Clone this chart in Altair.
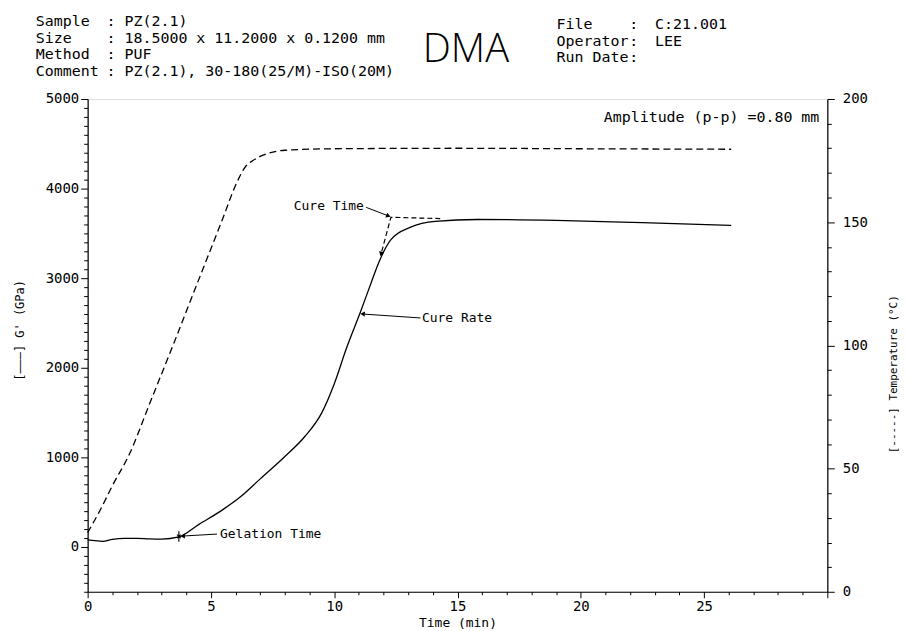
import math
import altair as alt
import pandas as pd

# ---------------- data ----------------
time_g = [0, 0.3, 0.6, 1.0, 1.5, 2.0, 2.5, 3.0, 3.7, 4.5, 5.5, 6.2, 7.0, 8.0, 8.8,
          9.5, 10.0, 10.5, 11.06, 11.5, 11.8, 12.3, 13.1, 14.1, 15.8, 19.0, 22.5, 26.1]
g_prime = [80, 70, 62, 85, 95, 95, 90, 88, 112, 250, 420, 560, 760, 1010, 1230,
           1500, 1820, 2220, 2620, 2950, 3170, 3430, 3570, 3635, 3655, 3645, 3620, 3590]

time_temp = [0, 0.5, 1.0, 1.7, 2.5, 3.5, 4.4, 5.5, 6.0, 6.4, 6.7, 7.2, 8.0, 10.0, 15.0, 20.0, 26.1]
temperature = [24, 33, 43, 56, 76, 101, 124, 152, 165, 172.5, 175, 177.5, 179.2, 179.8, 180, 179.8, 179.6]

x_ticks = list(range(0, 31))
g_ticks = list(range(-500, 5001, 100))
t_ticks = list(range(0, 201, 10))

header_labels = ["Sample", "Size", "Method", "Comment"]
header_values = ["PZ(2.1)", "18.5000 x 11.2000 x 0.1200 mm", "PUF", "PZ(2.1), 30-180(25/M)-ISO(20M)"]
file_labels = ["File", "Operator", "Run Date"]
file_values = ["C:21.001", "LEE", ""]
big_title = "DMA"
amplitude_text = "Amplitude (p-p) =0.80 mm"

ann_text = ["Cure Time", "Cure Rate", "Gelation Time"]
ann_t = [8.36, 13.56, 5.37]
ann_g = [3800, 2556, 144]
arrow_t0 = [11.3, 13.5, 5.25]
arrow_g0 = [3790, 2556, 144]
arrow_t1 = [12.2, 11.15, 3.85]
arrow_g1 = [3695, 2600, 122]

tangent_t = [14.3, 12.3, 11.9]
tangent_g = [3665, 3680, 3270]

gel_t = [3.7]
gel_g = [118]

# ---------------- layout ----------------
W, H = 743, 495
PAD = {"left": 80, "top": 90, "right": 72, "bottom": 38}
OX, OY = 8 + PAD["left"], 8 + PAD["top"]
MONO = "DejaVu Sans Mono"
KX = W / 30.0
KY = H / 5500.0

df_g = pd.DataFrame({"t": time_g, "g": g_prime})
df_t = pd.DataFrame({"t": time_temp, "T": temperature})
df_ann = pd.DataFrame({"label": ann_text, "t": ann_t, "g": ann_g})
angles = []
for a0, b0, a1, b1 in zip(arrow_t0, arrow_g0, arrow_t1, arrow_g1):
    angles.append(math.degrees(math.atan2(-(b1 - b0) * KY, (a1 - a0) * KX)) % 360)
df_arrow = pd.DataFrame({"t": arrow_t0, "g": arrow_g0, "t1": arrow_t1, "g1": arrow_g1, "ang": angles})
df_head = pd.DataFrame({"t": arrow_t1, "g": arrow_g1, "ang": angles})
df_tan = pd.DataFrame({"t": tangent_t, "g": tangent_g, "i": list(range(len(tangent_t)))})
tan_ang = math.degrees(math.atan2(-(tangent_g[2] - tangent_g[1]) * KY, (tangent_t[2] - tangent_t[1]) * KX)) % 360
df_tan_head = pd.DataFrame({"t": [tangent_t[2]], "g": [tangent_g[2]], "ang": [tan_ang]})
df_gel = pd.DataFrame({"t": gel_t, "g": gel_g})

rows = []
for i, (lab, val) in enumerate(zip(header_labels, header_values)):
    y = 20 + i * 16.5 - OY
    rows.append({"text": lab, "px": 36 - OX, "py": y})
    rows.append({"text": ":", "px": 107 - OX, "py": y})
    rows.append({"text": val, "px": 125 - OX, "py": y})
for i, (lab, val) in enumerate(zip(file_labels, file_values)):
    y = 23 + i * 16.5 - OY
    rows.append({"text": lab, "px": 559 - OX, "py": y})
    rows.append({"text": ":", "px": 632 - OX, "py": y})
    rows.append({"text": val, "px": 658 - OX, "py": y})
df_header = pd.DataFrame(rows)

# ---------------- scales / axes ----------------
x_scale = alt.Scale(domain=[0, 30], nice=False, zero=False)
g_scale = alt.Scale(domain=[-500, 5000], nice=False, zero=False)
t_scale = alt.Scale(domain=[0, 200], nice=False, zero=False)

common = dict(domainColor="black", tickColor="black", labelColor="black", titleColor="black",
              labelFont=MONO, titleFont=MONO, titleFontWeight="normal", grid=False,
              domainWidth=1.2, tickWidth=1, labelOverlap=False, labelBound=False, format="d")

x_axis = alt.Axis(values=x_ticks,
                  labelExpr="datum.value % 5 === 0 && datum.value < 30 ? datum.label : ''",
                  tickSize={"condition": {"test": "datum.value % 5 === 0", "value": 6}, "value": 3},
                  labelFontSize=14, labelPadding=2, labelFlush=False,
                  title="Time (min)", titleFontSize=13, titleY=31, titleBaseline="middle",
                  **common)
g_axis = alt.Axis(orient="left", values=g_ticks,
                  labelExpr="datum.value % 1000 === 0 ? datum.label : ''",
                  tickSize={"condition": {"test": "datum.value % 1000 === 0", "value": 7}, "value": 4},
                  labelFontSize=14, labelPadding=2,
                  title="[———] G' (GPa)", titleFontSize=12, titleAngle=270,
                  titleX=-68, titleY=232, titleAlign="center", titleBaseline="middle",
                  **common)
t_axis = alt.Axis(orient="right", values=t_ticks,
                  labelExpr="datum.value % 50 === 0 ? datum.label : ''",
                  tickSize={"condition": {"test": "datum.value % 50 === 0", "value": 7}, "value": 4},
                  labelFontSize=14, labelPadding=8,
                  title="[-----] Temperature (°C)", titleFontSize=11, titleAngle=270,
                  titleX=66, titleY=276, titleAlign="center", titleBaseline="middle",
                  **common)

X = alt.X("t:Q", scale=x_scale, axis=x_axis)
YG = alt.Y("g:Q", scale=g_scale, axis=g_axis)

# ---------------- layers ----------------
g_line = alt.Chart(df_g).mark_line(color="black", strokeWidth=1.3, interpolate="monotone").encode(x=X, y=YG)

ann = alt.Chart(df_ann).mark_text(align="left", baseline="middle", font=MONO, fontSize=13, color="black").encode(
    x=X, y=YG, text="label:N",
)

arrows = alt.Chart(df_arrow).mark_rule(color="black", strokeWidth=1).encode(
    x=X, x2="t1:Q", y=YG, y2="g1:Q",
)
heads = alt.Chart(df_head).mark_point(shape="triangle-right", filled=True, size=28, color="black", opacity=1).encode(
    x=X, y=YG, angle=alt.Angle("ang:Q", scale=None),
)

tangent = alt.Chart(df_tan).mark_line(color="black", strokeWidth=1.2, strokeDash=[5, 3]).encode(
    x=X, y=YG, order="i:Q",
)
tan_head = alt.Chart(df_tan_head).mark_point(shape="triangle-right", filled=True, size=28, color="black", opacity=1).encode(
    x=X, y=YG, angle=alt.Angle("ang:Q", scale=None),
)

gel_mark = alt.Chart(df_gel).mark_point(
    shape="M0,-1L0,1M-0.35,-0.35L0.35,0.35M-0.35,0.35L0.35,-0.35",
    filled=False, size=110, color="black", strokeWidth=1.1, opacity=1,
).encode(x=X, y=YG)

g_group = alt.layer(g_line, tangent, tan_head, arrows, heads, ann, gel_mark)

t_line = alt.Chart(df_t).mark_line(color="black", strokeWidth=1.3, strokeDash=[7, 4], interpolate="monotone").encode(
    x=X,
    y=alt.Y("T:Q", scale=t_scale, axis=t_axis),
)

header = alt.Chart(df_header).mark_text(align="left", baseline="middle", font=MONO, fontSize=15, color="black").encode(
    x=alt.X("px:Q", scale=None, axis=None),
    y=alt.Y("py:Q", scale=None, axis=None),
    text="text:N",
)

one = pd.DataFrame({"k": [0]})
dma = alt.Chart(one).mark_text(align="center", baseline="alphabetic", font="Open Sans", fontSize=40,
                               fontWeight=300, color="black").encode(
    x=alt.value(468 - OX), y=alt.value(61 - OY), text=alt.value(big_title))
amp = alt.Chart(one).mark_text(align="right", baseline="middle", font=MONO, fontSize=15, color="black").encode(
    x=alt.value(823 - OX), y=alt.value(116 - OY), text=alt.value(amplitude_text))

chart = alt.layer(g_group, t_line, header, dma, amp).resolve_scale(y="independent").properties(
    width=W, height=H,
    autosize=alt.AutoSizeParams(type="none"),
    padding=PAD,
).configure_view(stroke="black", strokeWidth=1.2).configure(background="white")

chart.save("out.html", embed_options={"renderer": "svg", "actions": False})
